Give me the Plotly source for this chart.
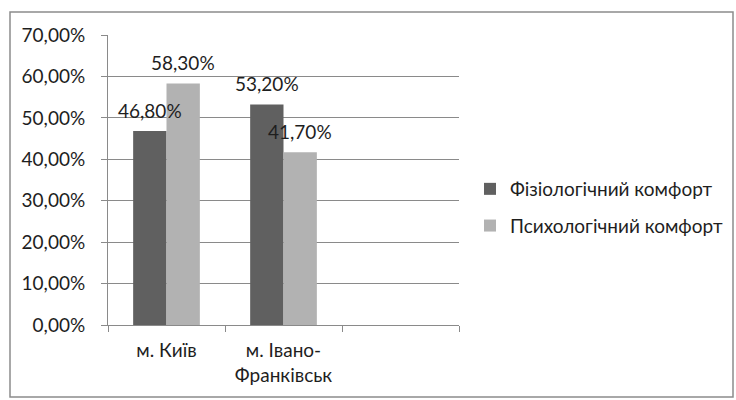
import plotly.graph_objects as go

categories = ["м. Київ", "м. Івано-<br>Франківськ", " "]
series_names = ["Фізіологічний комфорт", "Психологічний комфорт"]
fiz_values = [0.468, 0.532, None]
psy_values = [0.583, 0.417, None]
colors = ["#606060", "#b2b2b2"]

FONT = "Lato"
FS = 19
TXT = "#1e1e1e"
GRID = "#8a8a8a"

fig = go.Figure()
for name, vals, col in zip(series_names, [fiz_values, psy_values], colors):
    fig.add_trace(go.Bar(x=categories, y=vals, name=name, marker_color=col,
                         marker_line_width=0, legendgroup=name))

def fmt(v):
    return f"{v*100:.2f}%".replace(".", ",")

half = 16.75
for i, (vals) in enumerate([fiz_values, psy_values]):
    shift = -half if i == 0 else half
    for c, v in zip(categories, vals):
        if v is None:
            continue
        fig.add_annotation(x=c, y=v, text=fmt(v), showarrow=False,
                           xshift=shift, yshift=21,
                           font=dict(family=FONT, size=FS, color=TXT))

L, R, T, B = 108, 459, 35, 325
W, H = 736, 400
pw, ph = R - L, B - T
def px(x):
    return (x - L) / pw
def py(y):
    return (B - y) / ph

fig.add_shape(type="rect", xref="paper", yref="paper",
              x0=px(10), x1=px(733), y0=py(397), y1=py(12),
              line=dict(color="#8c8c8c", width=1.5), fillcolor="rgba(0,0,0,0)")

fig.update_layout(
    width=W, height=H,
    margin=dict(l=L, r=W - R, t=T, b=H - B, pad=0, autoexpand=False),
    paper_bgcolor="white", plot_bgcolor="white",
    barmode="group", bargap=0.43, bargroupgap=0,
    separators=", ",
    font=dict(family=FONT, size=FS, color=TXT),
    showlegend=True,
    legend=dict(x=px(470), xanchor="left", y=py(207.5), yanchor="middle",
                traceorder="grouped", tracegroupgap=9,
                font=dict(family=FONT, size=FS, color=TXT),
                itemwidth=30, bgcolor="rgba(0,0,0,0)"),
)
fig.update_yaxes(range=[0, 0.7], dtick=0.1, tickformat=".2%",
                 showgrid=True, gridcolor=GRID, gridwidth=1,
                 showline=True, linecolor=GRID, linewidth=1,
                 ticks="outside", ticklen=6, tickcolor=GRID,
                 ticklabelstandoff=12, zeroline=False,
                 tickfont=dict(family=FONT, size=FS, color=TXT))
fig.update_xaxes(type="category", tickson="boundaries",
                 showline=True, linecolor=GRID, linewidth=1,
                 ticks="outside", ticklen=6, tickcolor=GRID,
                 ticklabelstandoff=8, showgrid=False,
                 tickfont=dict(family=FONT, size=FS, color=TXT))

fig.write_html("out.html", config={"displayModeBar": False},
               post_script="document.body.style.margin='0';document.body.style.overflow='hidden';")
